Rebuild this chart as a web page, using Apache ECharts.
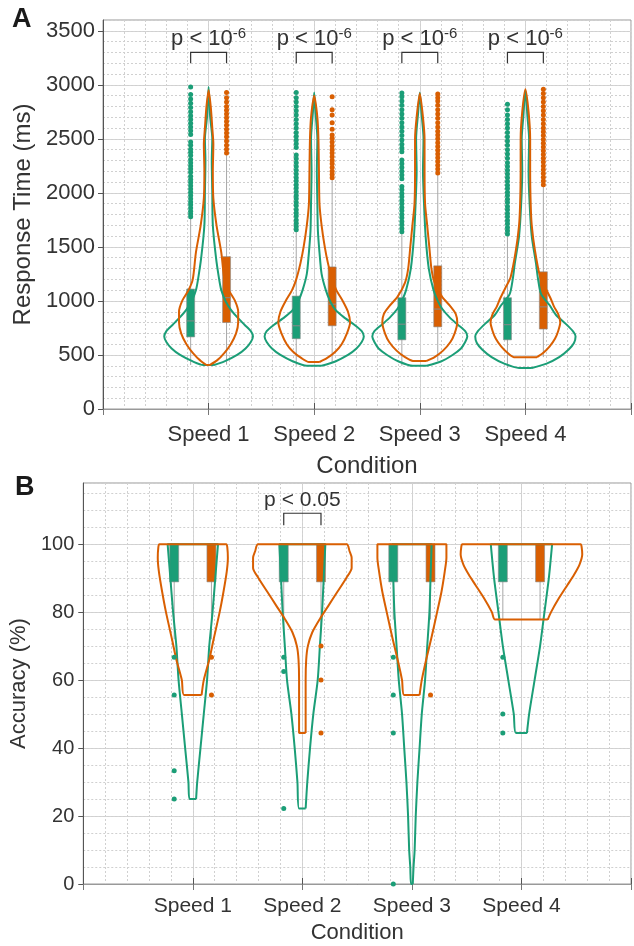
<!DOCTYPE html>
<html>
<head>
<meta charset="utf-8">
<script src="https://cdn.jsdelivr.net/npm/echarts@6/dist/echarts.min.js"></script>
<style>html,body{margin:0;padding:0;background:#fff}#main{width:634px;height:946px}</style>
</head>
<body>
<div id="main"></div>
<script>
var conditions = ['Speed 1', 'Speed 2', 'Speed 3', 'Speed 4'];

// ---- panel A: response time (ms) ----
// violin outlines: levels (ms) and half widths (x units)
var rtGreenLevels = [
  [407, 440, 500, 560, 620, 670, 720, 780, 850, 920, 1000, 1100, 1200, 1400, 1700, 2000, 2300, 2500, 2700, 2980],
  [400, 440, 500, 560, 620, 670, 720, 780, 850, 920, 1000, 1100, 1250, 1450, 1650, 1900, 2200, 2500, 2750, 2930],
  [400, 440, 500, 560, 620, 670, 720, 780, 850, 930, 1000, 1100, 1300, 1600, 1900, 2200, 2500, 2750, 2930],
  [380, 420, 480, 550, 610, 670, 720, 790, 870, 960, 1060, 1200, 1350, 1600, 1900, 2200, 2500, 2700, 2950]
];
var rtGreenWidths = [
  [0.05, 0.15, 0.27, 0.35, 0.40, 0.42, 0.40, 0.34, 0.27, 0.21, 0.16, 0.12, 0.10, 0.07, 0.04, 0.035, 0.03, 0.035, 0.015, 0],
  [0.07, 0.20, 0.32, 0.40, 0.45, 0.47, 0.45, 0.38, 0.28, 0.20, 0.15, 0.11, 0.07, 0.05, 0.035, 0.03, 0.025, 0.03, 0.012, 0],
  [0.065, 0.20, 0.31, 0.39, 0.43, 0.45, 0.43, 0.36, 0.28, 0.21, 0.17, 0.13, 0.085, 0.055, 0.04, 0.03, 0.035, 0.015, 0],
  [0.06, 0.20, 0.32, 0.41, 0.46, 0.475, 0.45, 0.38, 0.29, 0.23, 0.15, 0.12, 0.10, 0.06, 0.04, 0.03, 0.035, 0.02, 0]
];
var rtOrangeLevels = [
  [407, 450, 520, 600, 700, 800, 900, 1000, 1100, 1200, 1450, 1700, 1950, 2200, 2450, 2600, 2800, 2950],
  [435, 470, 530, 600, 700, 800, 900, 1000, 1100, 1200, 1350, 1500, 1700, 1900, 2200, 2500, 2700, 2900],
  [445, 480, 540, 620, 700, 800, 880, 950, 1040, 1170, 1300, 1500, 1700, 1900, 2200, 2500, 2700, 2920],
  [480, 520, 580, 650, 720, 800, 880, 950, 1020, 1120, 1220, 1470, 1700, 1900, 2200, 2500, 2750, 2960]
];
var rtOrangeWidths = [
  [0.01, 0.08, 0.15, 0.21, 0.26, 0.28, 0.28, 0.25, 0.19, 0.15, 0.12, 0.075, 0.045, 0.04, 0.045, 0.035, 0.02, 0],
  [0.05, 0.12, 0.20, 0.26, 0.31, 0.34, 0.32, 0.27, 0.21, 0.17, 0.13, 0.10, 0.07, 0.05, 0.045, 0.04, 0.03, 0],
  [0.065, 0.14, 0.22, 0.29, 0.33, 0.355, 0.34, 0.29, 0.21, 0.14, 0.11, 0.09, 0.07, 0.05, 0.045, 0.045, 0.03, 0],
  [0.11, 0.17, 0.23, 0.28, 0.31, 0.33, 0.31, 0.27, 0.24, 0.19, 0.14, 0.09, 0.06, 0.05, 0.045, 0.045, 0.03, 0]
];
// boxes: [q1, median, q3]
var rtGreenBox = [[667, 815, 1110], [650, 770, 1045], [640, 785, 1030], [640, 780, 1030]];
var rtOrangeBox = [[800, 1030, 1410], [770, 970, 1315], [760, 925, 1325], [740, 945, 1270]];
// whiskers: [low, high]
var rtGreenWhisker = [[407, 1760], [400, 1640], [400, 1620], [380, 1600]];
var rtOrangeWhisker = [[410, 2350], [435, 2120], [445, 2170], [480, 2060]];
// outliers
var rtGreenOut = [
  [1780, 1805, 1830, 1860, 1890, 1915, 1945, 1975, 2005, 2035, 2065, 2095, 2125, 2155, 2190, 2220, 2250, 2280, 2310, 2345, 2375, 2405, 2440, 2470, 2540, 2575, 2610, 2645, 2680, 2715, 2750, 2790, 2830, 2870, 2910, 2980],
  [1660, 1690, 1720, 1750, 1785, 1815, 1845, 1880, 1910, 1945, 1975, 2010, 2045, 2075, 2110, 2140, 2175, 2210, 2245, 2280, 2315, 2350, 2420, 2455, 2490, 2525, 2560, 2600, 2640, 2680, 2720, 2760, 2800, 2840, 2880, 2930],
  [1640, 1670, 1705, 1735, 1770, 1800, 1835, 1865, 1900, 1930, 1965, 1995, 2030, 2060, 2130, 2165, 2200, 2235, 2270, 2305, 2380, 2415, 2450, 2490, 2530, 2570, 2610, 2650, 2690, 2730, 2770, 2810, 2850, 2890, 2925],
  [1620, 1650, 1680, 1715, 1745, 1780, 1810, 1845, 1875, 1910, 1940, 1975, 2005, 2040, 2070, 2105, 2140, 2175, 2210, 2245, 2280, 2320, 2360, 2400, 2440, 2480, 2520, 2560, 2600, 2640, 2680, 2720, 2770, 2820]
];
var rtOrangeOut = [
  [2370, 2405, 2440, 2480, 2520, 2555, 2590, 2625, 2660, 2695, 2730, 2765, 2800, 2840, 2880, 2930],
  [2140, 2170, 2200, 2235, 2270, 2300, 2335, 2370, 2400, 2435, 2470, 2505, 2535, 2590, 2650, 2720, 2770, 2890],
  [2185, 2220, 2255, 2290, 2325, 2360, 2395, 2430, 2465, 2500, 2535, 2570, 2610, 2650, 2690, 2730, 2770, 2810, 2850, 2880, 2915],
  [2075, 2110, 2145, 2180, 2215, 2250, 2285, 2320, 2355, 2390, 2425, 2460, 2495, 2530, 2565, 2600, 2640, 2680, 2720, 2760, 2800, 2840, 2880, 2920, 2960]
];
var rtPExp = ['-6', '-6', '-6', '-6'];

// ---- panel B: accuracy (%) ----
var accGreenLevels = [
  [25, 30, 40, 50, 60, 70, 80, 90, 100],
  [22.2, 30, 40, 50, 60, 70, 80, 90, 100],
  [0, 5, 10, 20, 30, 40, 50, 60, 70, 80, 90, 100],
  [44.4, 50, 60, 70, 80, 90, 100]
];
var accGreenWidths = [
  [0.03, 0.04, 0.07, 0.10, 0.13, 0.15, 0.18, 0.205, 0.23],
  [0.03, 0.045, 0.07, 0.10, 0.14, 0.16, 0.18, 0.195, 0.21],
  [0.008, 0.015, 0.025, 0.035, 0.05, 0.07, 0.09, 0.12, 0.14, 0.16, 0.17, 0.18],
  [0.05, 0.07, 0.12, 0.17, 0.21, 0.25, 0.28]
];
var accOrangeLevels = [
  [55.6, 60, 66, 72, 80, 86, 92, 96, 99, 100],
  [44.4, 50, 60, 66, 70, 74, 78, 82, 86, 90, 93, 96, 98, 100],
  [55.6, 60, 66, 72, 80, 86, 92, 96, 99, 100],
  [77.8, 80, 84, 88, 91, 94, 97, 99, 100]
];
var accOrangeWidths = [
  [0.08, 0.10, 0.15, 0.19, 0.245, 0.28, 0.31, 0.32, 0.315, 0.305],
  [0.03, 0.03, 0.03, 0.035, 0.05, 0.09, 0.16, 0.24, 0.32, 0.40, 0.45, 0.45, 0.43, 0.405],
  [0.07, 0.09, 0.13, 0.175, 0.23, 0.27, 0.30, 0.315, 0.315, 0.315],
  [0.24, 0.27, 0.34, 0.42, 0.48, 0.53, 0.555, 0.55, 0.54]
];
var accGreenBox = [[88.9, 100, 100], [88.9, 100, 100], [88.9, 100, 100], [88.9, 100, 100]];
var accOrangeBox = [[88.9, 100, 100], [88.9, 100, 100], [88.9, 100, 100], [88.9, 100, 100]];
var accGreenWhisker = [[72, 100], [75, 100], [77.8, 100], [77.8, 100]];
var accOrangeWhisker = [[72, 100], [75, 100], [77.8, 100], [77.8, 100]];
var accGreenOut = [[66.7, 55.6, 33.3, 25], [66.7, 62.5, 22.2], [66.7, 55.6, 44.4, 0], [66.7, 50, 44.4]];
var accOrangeOut = [[66.7, 55.6], [70, 60, 44.4], [55.6], []];
var accP = ['', 'p < 0.05', '', ''];

var FONT = "'Liberation Sans', Arial, Helvetica, sans-serif";
var GREEN = '#1b9e77', ORANGE = '#d95f02';
var OFF = 0.17;
var TXT = '#333';

function outline(c, lv, hw) {
  var pts = [];
  for (var i = 0; i < lv.length; i++) pts.push([c + hw[i], lv[i]]);
  for (var j = lv.length - 1; j >= 0; j--) {
    if (j == lv.length - 1 && hw[j] === 0) continue;
    pts.push([c - hw[j], lv[j]]);
  }
  pts.push([c + hw[0], lv[0]]);
  return pts;
}

function boxRender(w) {
  return function (params, api) {
    var x = api.value(0);
    var lo = api.coord([x, api.value(1)]), md = api.coord([x, api.value(2)]), hi = api.coord([x, api.value(3)]);
    return {
      type: 'group', children: [
        {type: 'rect', shape: {x: lo[0] - w / 2, y: hi[1], width: w, height: lo[1] - hi[1]},
          style: {fill: api.visual('color'), stroke: '#8a8a8a', lineWidth: 0.6}},
        {type: 'line', shape: {x1: lo[0] - w / 2, y1: md[1], x2: lo[0] + w / 2, y2: md[1]},
          style: {stroke: '#8a8a8a', lineWidth: 1}}
      ]
    };
  };
}

function whiskerRender(params, api) {
  var a = api.coord([api.value(0), api.value(1)]), b = api.coord([api.value(0), api.value(2)]);
  return {type: 'line', shape: {x1: a[0], y1: a[1], x2: b[0], y2: b[1]}, style: {stroke: '#a8a8a8', lineWidth: 1}};
}

// bracket + "p < 10^-6" label for panel A
function bracketRender(yLo, yHi, gap, fontSize, supSize) {
  return function (params, api) {
    var c = api.value(0);
    var a = api.coord([c - OFF, yLo]), b = api.coord([c - OFF, yHi]);
    var d = api.coord([c + OFF, yHi]), e = api.coord([c + OFF, yLo]);
    var m = api.coord([c, yHi]);
    var txt = 'p < 10{s|' + rtPExp[c - 1] + '}';
    return {
      type: 'group', children: [
        {type: 'polyline', shape: {points: [a, b, d, e]}, style: {stroke: '#333', lineWidth: 1.2, fill: null}},
        {type: 'text', style: {x: m[0], y: m[1] - gap, text: txt, align: 'center', verticalAlign: 'middle',
          fontSize: fontSize, fontFamily: FONT, fill: TXT, lineHeight: fontSize + 5,
          rich: {s: {fontSize: supSize, fontFamily: FONT, fill: TXT, verticalAlign: 'top'}}}}
      ]
    };
  };
}

function accBracketRender(yLo, yHi, gap, fontSize) {
  return function (params, api) {
    var c = api.value(0);
    var a = api.coord([c - OFF, yLo]), b = api.coord([c - OFF, yHi]);
    var d = api.coord([c + OFF, yHi]), e = api.coord([c + OFF, yLo]);
    var m = api.coord([c, yHi]);
    return {
      type: 'group', children: [
        {type: 'polyline', shape: {points: [a, b, d, e]}, style: {stroke: '#333', lineWidth: 1.2, fill: null}},
        {type: 'text', style: {x: m[0], y: m[1] - gap, text: accP[c - 1], align: 'center', verticalAlign: 'middle',
          fontSize: fontSize, fontFamily: FONT, fill: TXT}}
      ]
    };
  };
}

function xfmt(v) { return (v >= 1 && v <= 4) ? conditions[v - 1] : ''; }

function mainX(grid, fs, margin, nameSize, nameGap) {
  return {
    gridIndex: grid, type: 'value', min: 0, max: 5, interval: 1, position: 'bottom',
    axisLine: {show: true, onZero: false, lineStyle: {color: '#555', width: 1}},
    axisTick: {show: true, inside: true, length: 6, lineStyle: {color: '#555'}},
    axisLabel: {formatter: xfmt, fontSize: fs, color: TXT, margin: margin, fontFamily: FONT},
    splitLine: {show: true, lineStyle: {color: '#d4d4d4', width: 1}},
    name: 'Condition', nameLocation: 'middle', nameGap: nameGap,
    nameTextStyle: {fontSize: nameSize, color: TXT, fontFamily: FONT}
  };
}
function minorAxis(grid, min, max, interval, pos) {
  return {
    gridIndex: grid, type: 'value', min: min, max: max, interval: interval, position: pos,
    axisLine: {show: false}, axisTick: {show: false}, axisLabel: {show: false},
    splitLine: {show: true, lineStyle: {color: '#d0d0d0', width: 1, type: [2, 2]}}
  };
}
function topX(grid) {
  return {
    gridIndex: grid, type: 'value', min: 0, max: 5, interval: 1, position: 'top',
    axisLine: {show: true, lineStyle: {color: '#999'}},
    axisTick: {show: true, inside: true, length: 6, lineStyle: {color: '#777'}},
    axisLabel: {show: false}, splitLine: {show: false}
  };
}
function mainY(grid, max, interval, labelMax, fs, margin, name, nameSize, nameGap) {
  var ticks = [];
  for (var v = 0; v <= labelMax; v += interval) ticks.push(v);
  return {
    gridIndex: grid, type: 'value', min: 0, max: max, interval: interval, position: 'left',
    axisLine: {show: true, onZero: false, lineStyle: {color: '#555', width: 1}},
    axisTick: {show: true, inside: false, length: 5, customValues: ticks, lineStyle: {color: '#555'}},
    axisLabel: {fontSize: fs, color: TXT, margin: margin, fontFamily: FONT,
      formatter: function (v) { return (v % interval === 0 && v <= labelMax) ? String(v) : ''; }},
    splitLine: {show: true, lineStyle: {color: '#d4d4d4', width: 1}},
    name: name, nameLocation: 'middle', nameGap: nameGap,
    nameTextStyle: {fontSize: nameSize, color: TXT, fontFamily: FONT}
  };
}

var series = [];
function addPanel(xi, yi, gl, gw, ol, ow, gb, ob, gwk, owk, go, oo, boxW, dot) {
  var wk = [], gs = [], os = [];
  for (var k = 0; k < 4; k++) {
    var c = k + 1;
    wk.push([c - OFF, gwk[k][0], gwk[k][1]]);
    wk.push([c + OFF, owk[k][0], owk[k][1]]);
    series.push({type: 'line', xAxisIndex: xi, yAxisIndex: yi, data: outline(c, gl[k], gw[k]), symbol: 'none',
      smooth: 0.25, lineStyle: {color: GREEN, width: 2}, z: 4, silent: true});
    series.push({type: 'line', xAxisIndex: xi, yAxisIndex: yi, data: outline(c, ol[k], ow[k]), symbol: 'none',
      smooth: 0.25, lineStyle: {color: ORANGE, width: 2}, z: 4, silent: true});
    go[k].forEach(function (v) { gs.push([c - OFF, v]); });
    oo[k].forEach(function (v) { os.push([c + OFF, v]); });
  }
  series.push({type: 'custom', xAxisIndex: xi, yAxisIndex: yi, renderItem: whiskerRender, data: wk,
    encode: {x: 0, y: [1, 2]}, z: 2, silent: true});
  series.push({type: 'custom', xAxisIndex: xi, yAxisIndex: yi, renderItem: boxRender(boxW), itemStyle: {color: GREEN},
    data: gb.map(function (b, k) { return [k + 1 - OFF, b[0], b[1], b[2]]; }), encode: {x: 0, y: [1, 2, 3]}, z: 3, silent: true});
  series.push({type: 'custom', xAxisIndex: xi, yAxisIndex: yi, renderItem: boxRender(boxW), itemStyle: {color: ORANGE},
    data: ob.map(function (b, k) { return [k + 1 + OFF, b[0], b[1], b[2]]; }), encode: {x: 0, y: [1, 2, 3]}, z: 3, silent: true});
  series.push({type: 'scatter', xAxisIndex: xi, yAxisIndex: yi, data: gs, symbolSize: dot, itemStyle: {color: GREEN, opacity: 1}, z: 5, silent: true});
  series.push({type: 'scatter', xAxisIndex: xi, yAxisIndex: yi, data: os, symbolSize: dot, itemStyle: {color: ORANGE, opacity: 1}, z: 5, silent: true});
}

addPanel(0, 0, rtGreenLevels, rtGreenWidths, rtOrangeLevels, rtOrangeWidths, rtGreenBox, rtOrangeBox,
  rtGreenWhisker, rtOrangeWhisker, rtGreenOut, rtOrangeOut, 8, 5);
addPanel(3, 2, accGreenLevels, accGreenWidths, accOrangeLevels, accOrangeWidths, accGreenBox, accOrangeBox,
  accGreenWhisker, accOrangeWhisker, accGreenOut, accOrangeOut, 9, 5);

series.push({type: 'custom', xAxisIndex: 0, yAxisIndex: 0, renderItem: bracketRender(3200, 3300, 13, 22, 15),
  data: rtPExp.map(function (e, k) { return [k + 1, 3300]; }), encode: {x: 0, y: 1}, z: 6, silent: true});
series.push({type: 'custom', xAxisIndex: 3, yAxisIndex: 2, renderItem: accBracketRender(105.6, 109.1, 13, 21),
  data: accP.map(function (p, k) { return [k + 1, 109.1]; }).filter(function (d, k) { return accP[k]; }),
  encode: {x: 0, y: 1}, z: 6, silent: true});

var chart = echarts.init(document.getElementById('main'));
chart.setOption({
  animation: false,
  backgroundColor: '#fff',
  textStyle: {fontFamily: FONT},
  grid: [
    {left: 103, top: 20, width: 534, height: 389, show: true, borderColor: '#999', borderWidth: 1, containLabel: false},
    {left: 80, top: 483, width: 555, height: 401, show: true, borderColor: '#999', borderWidth: 1, containLabel: false}
  ],
  xAxis: [
    mainX(0, 22, 15, 24, 45), minorAxis(0, 0, 5, 0.2, 'bottom'), topX(0),
    mainX(1, 21, 12, 22, 38), minorAxis(1, 0, 5, 0.2, 'bottom'), topX(1)
  ],
  yAxis: [
    mainY(0, 3600, 500, 3500, 22, 8, 'Response Time (ms)', 24, 64), minorAxis(0, 0, 3600, 100, 'left'),
    mainY(1, 118, 20, 100, 20, 9, 'Accuracy (%)', 22, 46), minorAxis(1, 0, 118, 5, 'left')
  ],
  graphic: [
    {type: 'text', left: 12, top: 6, style: {text: 'A', font: 'bold 27px ' + FONT, fill: '#1a1a1a'}},
    {type: 'text', left: 15, top: 474, style: {text: 'B', font: 'bold 27px ' + FONT, fill: '#1a1a1a'}}
  ],
  series: series
});
</script>
</body>
</html>
